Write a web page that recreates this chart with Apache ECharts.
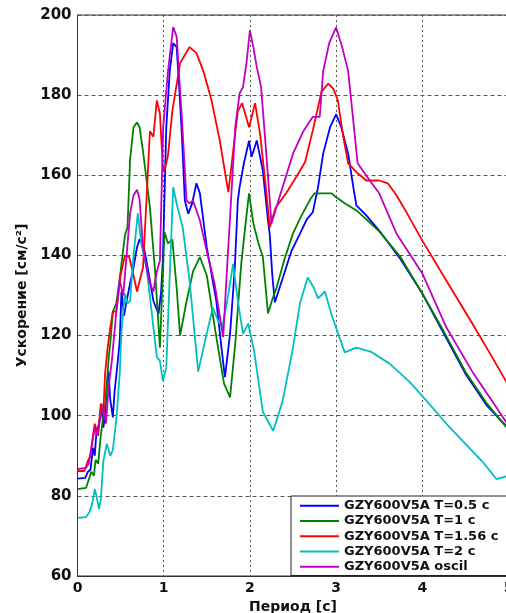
<!DOCTYPE html>
<html><head><meta charset="utf-8">
<script src="https://cdn.jsdelivr.net/npm/echarts@6/dist/echarts.min.js"></script>
<style>html,body{margin:0;padding:0;background:#fff}#c{width:506px;height:613px}</style>
</head><body><div id="c"></div>
<script>
const seriesNames = ['GZY600V5A T=0.5 c','GZY600V5A T=1 c','GZY600V5A T=1.56 c','GZY600V5A T=2 c','GZY600V5A oscil'];
const xTicks = [0,1,2,3,4,5];
const yTicks = [60,80,100,120,140,160,180,200];

const blueT = [0,0.09,0.12,0.15,0.18,0.2,0.22,0.25,0.28,0.3,0.32,0.34,0.36,0.38,0.41,0.43,0.46,0.49,0.51,0.54,0.57,0.61,0.65,0.69,0.72,0.75,0.78,0.83,0.88,0.94,0.97,0.99,1.03,1.07,1.11,1.15,1.18,1.21,1.245,1.285,1.33,1.38,1.42,1.5,1.61,1.67,1.71,1.77,1.825,1.86,1.88,1.93,1.99,2.02,2.08,2.15,2.21,2.23,2.26,2.29,2.385,2.48,2.58,2.66,2.73,2.79,2.85,2.93,3.0,3.06,3.14,3.2,3.235,3.35,3.5,3.75,4.0,4.25,4.5,4.75,5.0];
const blueA = [84.3,84.5,86,86.5,92,90,96,98,103,97,100,108,111,104,99.6,106,112,118.7,131,125,128.7,133,137,142,144,143,141,135,128.7,125.4,131,138.7,172,186,193,192,182,170.4,153.7,150.4,153,158,155.5,142,128.7,117,109.6,120.4,137,153.7,157,163,168.6,164.6,168.7,161.2,148.7,145.4,135,128.3,134.6,141,145.4,149,150.8,157,165.4,172,175.2,172,165.4,157,152.5,150,146.2,139,130.5,120.5,110.5,102.5,96.8];

const greenT = [0,0.1,0.13,0.16,0.19,0.21,0.24,0.27,0.3,0.33,0.36,0.38,0.41,0.45,0.5,0.55,0.58,0.61,0.65,0.69,0.72,0.76,0.8,0.84,0.9,0.956,0.98,1.01,1.05,1.1,1.15,1.19,1.26,1.34,1.42,1.5,1.6,1.7,1.77,1.83,1.9,1.95,1.99,2.04,2.1,2.15,2.21,2.26,2.31,2.4,2.5,2.6,2.7,2.75,2.85,2.95,3.0,3.1,3.25,3.5,3.75,4.0,4.25,4.5,4.75,5.0];
const greenA = [81.7,82,84,86,85,89,88,95,100,104,114,118,126,128,136,145,147,164,172,173.2,172,166,159,152,136,117,130,145.8,143,144,132,120,128,136,139.6,135,121,108,104.6,118,138,148,155.5,148,143,139.6,125.5,129,132,139,145.5,150,154,155.5,155.5,155.5,154.5,153,151,146,139.5,130.5,121,111,103,96.5];

const redT = [0,0.08,0.12,0.15,0.18,0.2,0.24,0.27,0.3,0.32,0.35,0.38,0.41,0.45,0.5,0.55,0.6,0.64,0.69,0.76,0.8,0.84,0.88,0.92,0.956,0.99,1.01,1.05,1.1,1.19,1.3,1.38,1.46,1.555,1.65,1.75,1.8,1.86,1.91,1.99,2.06,2.12,2.18,2.23,2.3,2.42,2.55,2.64,2.73,2.83,2.91,2.97,3.02,3.08,3.14,3.25,3.35,3.5,3.6,3.7,3.81,4.0,4.28,4.58,4.8,5.0];
const redA = [86.2,86.2,88.7,90,95,98,95,103,101,110.5,117,122,126,126,135,140,139.6,136,131,137,153.7,171,169.6,178.7,175.4,162,161.2,165,176,188,192,190.5,186,178.7,168.7,155.8,165,176,178,172,178,170,158,147,152,155.5,160,163.3,171.2,180.8,182.9,181.5,178.7,170,163,160.5,158.7,158.7,158,155,151,143.7,133.7,123,115,107.5];

const cyanT = [0,0.1,0.14,0.17,0.2,0.22,0.25,0.27,0.3,0.34,0.38,0.41,0.45,0.49,0.51,0.55,0.58,0.61,0.65,0.7,0.74,0.8,0.86,0.92,0.956,0.99,1.03,1.07,1.11,1.16,1.22,1.3,1.4,1.48,1.57,1.63,1.68,1.74,1.805,1.86,1.92,1.98,2.05,2.15,2.27,2.38,2.5,2.58,2.67,2.74,2.79,2.87,2.95,3.1,3.235,3.4,3.62,3.85,4.05,4.3,4.5,4.7,4.86,5.0];
const cyanA = [74.5,74.7,76,78,81.7,80,76.7,79,88.7,93,90,91.5,99,110.5,121,130.5,128,128.7,140,150.5,143,137,126,114.6,113.7,108.7,112,135,157,152,147,133.7,111,118.7,127,123.7,122,129,137.9,128.7,120.4,123,116,101,96.2,103.7,117,128,134.5,132,129.3,131,125,115.8,117,116,113,108.5,103.7,97.5,93,88.5,84.2,85];

const magT = [0,0.1,0.13,0.16,0.2,0.23,0.26,0.3,0.33,0.36,0.4,0.45,0.49,0.53,0.57,0.61,0.65,0.69,0.72,0.76,0.8,0.84,0.88,0.92,0.956,0.994,1.05,1.11,1.15,1.21,1.265,1.3,1.34,1.42,1.5,1.59,1.69,1.73,1.77,1.83,1.88,1.92,1.96,2.0,2.04,2.08,2.13,2.19,2.25,2.35,2.5,2.62,2.73,2.81,2.85,2.92,3.0,3.07,3.14,3.25,3.39,3.5,3.7,4.0,4.28,4.58,4.8,5.0];
const magA = [86.7,87,88,92,97,95,99,102,98,107,114,126,133.7,130,140,150.5,155,156.4,154,142,137,133,131,136,138.7,172,186,197,194.6,174.6,153.7,153,153.7,148.7,141,133,119.6,135,149.6,172,180.4,182,188,196.2,192,187,182,165.4,148,155,165.4,171,174.6,174.6,186,193,196.9,192,186,163,158.7,155.5,145.5,135.5,122,111,104,97.5];

const colors = ['#0000ff','#008000','#ff0000','#00bfbf','#bf00bf'];
const xs = [blueT, greenT, redT, cyanT, magT];
const ys = [blueA, greenA, redA, cyanA, magA];

const FONT = 'DejaVu Sans';
const chart = echarts.init(document.getElementById('c'), null, {renderer:'canvas'});
chart.setOption({
  animation: false,
  backgroundColor: '#fff',
  color: colors,
  grid: {left: 77.5, width: 431, top: 15, height: 561, containLabel: false, outerBoundsMode: 'none',
         show: true, borderColor: '#333', borderWidth: 1, backgroundColor: 'transparent'},
  xAxis: {
    type: 'value', min: xTicks[0], max: xTicks[xTicks.length-1], interval: 1,
    name: 'Период [с]', nameLocation: 'middle', nameGap: 18,
    nameTextStyle: {fontFamily: FONT, fontWeight: 'bold', fontSize: 14, color: '#111'},
    axisLine: {show: true, lineStyle: {color: '#333'}},
    axisTick: {show: false},
    axisLabel: {fontFamily: FONT, fontWeight: 'bold', fontSize: 14, color: '#111', margin: 5, hideOverlap: false},
    splitLine: {show: true, lineStyle: {color: '#555', type: [2,3], width: 1}}
  },
  yAxis: {
    type: 'value', min: yTicks[0], max: yTicks[yTicks.length-1], interval: 20,
    name: 'Ускорение [см/с²]', nameLocation: 'middle', nameGap: 45,
    nameTextStyle: {fontFamily: FONT, fontWeight: 'bold', fontSize: 14, color: '#111'},
    axisLine: {show: true, lineStyle: {color: '#333'}},
    axisTick: {show: false},
    axisLabel: {fontFamily: FONT, fontWeight: 'bold', fontSize: 15, color: '#111', margin: 6},
    splitLine: {show: true, lineStyle: {color: '#555', type: [4,3], width: 1}}
  },
  legend: {
    orient: 'vertical', left: 291, top: 496,
    padding: [2, 30, 1, 9], itemGap: 0, itemWidth: 39, itemHeight: 2,
    icon: 'rect',
    backgroundColor: '#fff', borderColor: '#222', borderWidth: 1,
    textStyle: {fontFamily: FONT, fontWeight: 'bold', fontSize: 13, color: '#111', lineHeight: 15.3},
    data: seriesNames
  },
  series: seriesNames.map((n, i) => ({
    name: n, type: 'line', showSymbol: false, symbol: 'none',
    lineStyle: {width: 1.8, color: colors[i]},
    itemStyle: {color: colors[i]},
    data: xs[i].map((t, k) => [t, ys[i][k]])
  }))
});
</script></body></html>
